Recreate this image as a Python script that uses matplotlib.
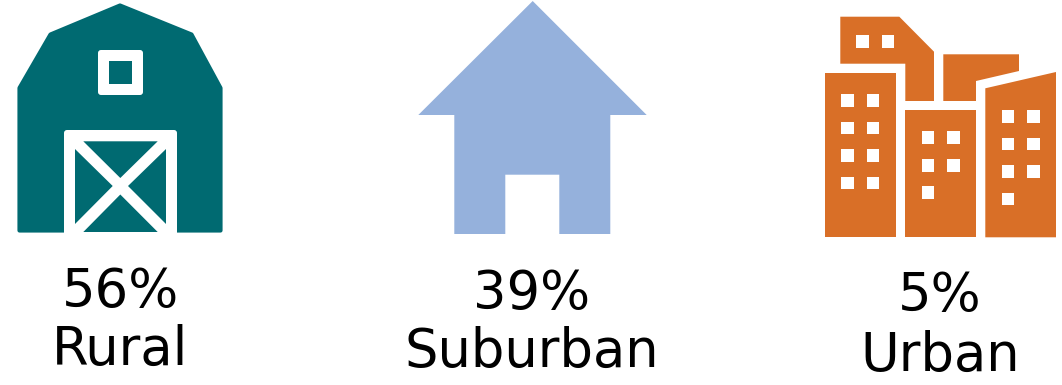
import matplotlib
matplotlib.use('Agg')
import matplotlib.pyplot as plt
from matplotlib.patches import Polygon, Rectangle, FancyBboxPatch

# Shares by area type
categories = ['Rural', 'Suburban', 'Urban']
shares = [56, 39, 5]
colors = ['#006a71', '#95b1dc', '#d96f27']
label_x = [120.5, 532, 940]
share_y = [307.5, 309.5, 311.5]
name_y = [365, 367, 371]


def add_poly(ax, pts, color, rounded=False):
    # a thin same-coloured edge with round joins softens the corners
    lw = 3 if rounded else 0
    ax.add_patch(Polygon(pts, closed=True, facecolor=color, edgecolor=color,
                         linewidth=lw, joinstyle='round'))


def add_windows(ax, xs_by_row, ys, w=12.6, h=12.6):
    for xs, y in zip(xs_by_row, ys):
        for x in xs:
            ax.add_patch(Rectangle((x, y), w, h, facecolor='white', edgecolor='none'))


fig = plt.figure(figsize=(10.62, 3.85), dpi=100)
ax = fig.add_axes([0, 0, 1, 1])
ax.set_xlim(0, 1062)
ax.set_ylim(385, 0)
ax.axis('off')

# Barn
teal = colors[0]
add_poly(ax, [(120, 5.5), (50.5, 34.5), (19.5, 88), (19.5, 230.5), (220.5, 230.5),
              (220.5, 88), (191.5, 34.5)], teal, rounded=True)
ax.add_patch(FancyBboxPatch((67, 133), 107, 110, boxstyle='round,pad=3',
                            facecolor='white', edgecolor='none'))
ax.add_patch(Rectangle((60, 232.5), 122, 14, facecolor='white', edgecolor='none'))
add_poly(ax, [(83.3, 141.3), (157.7, 141.3), (120.3, 178)], teal)
add_poly(ax, [(75, 149), (112.7, 186), (75, 224)], teal)
add_poly(ax, [(166, 149), (128, 186), (166, 224)], teal)
add_poly(ax, [(83.3, 232), (157.7, 232), (120.3, 194.5)], teal)
ax.add_patch(FancyBboxPatch((101, 53), 39, 39, boxstyle='round,pad=3',
                            facecolor='white', edgecolor='none'))
ax.add_patch(Rectangle((109, 61), 23, 23, facecolor=teal, edgecolor='none'))

# House
add_poly(ax, [(532.7, 1), (418.3, 115), (454.3, 115), (454.3, 234), (505.3, 234),
              (505.3, 174.7), (559.3, 174.7), (559.3, 234), (610.3, 234),
              (610.3, 115), (646.7, 115)], colors[1])

# City blocks
orange = colors[2]
add_poly(ax, [(840.3, 16.7), (899.3, 16.7), (934, 51.7), (934, 101), (905.3, 101),
              (905.3, 63.7), (840.3, 63.7)], orange)
add_poly(ax, [(943.3, 54.3), (1019, 54.3), (1019, 71), (976, 81), (976, 101),
              (943.3, 101)], orange)
add_poly(ax, [(825, 73.3), (895.7, 73.3), (895.7, 237.3), (825, 237.3)], orange)
add_poly(ax, [(905, 110.3), (976, 110.3), (976, 237.3), (905, 237.3)], orange)
add_poly(ax, [(985.3, 88.3), (1056, 72), (1056, 237.3), (985.3, 237.3)], orange)

add_windows(ax, [[856.3, 881.7]], [35])
add_windows(ax, [[841.3, 866.7]] * 4, [94.3, 121.7, 149, 176.7])
add_windows(ax, [[921.7, 947], [921.7, 947], [921.7]], [131.3, 159, 186.3])
add_windows(ax, [[1001.7, 1027], [1001.7, 1027], [1001.7, 1027], [1001.7]],
            [110.3, 137.7, 165.3, 192.7])

# Labels under each icon
for name, share, x, y1, y2 in zip(categories, shares, label_x, share_y, name_y):
    ax.text(x, y1, f'{share}%', ha='center', va='baseline', fontsize=38, color='black')
    ax.text(x, y2, name, ha='center', va='baseline', fontsize=38, color='black')

fig.savefig('out.png', dpi=100)
